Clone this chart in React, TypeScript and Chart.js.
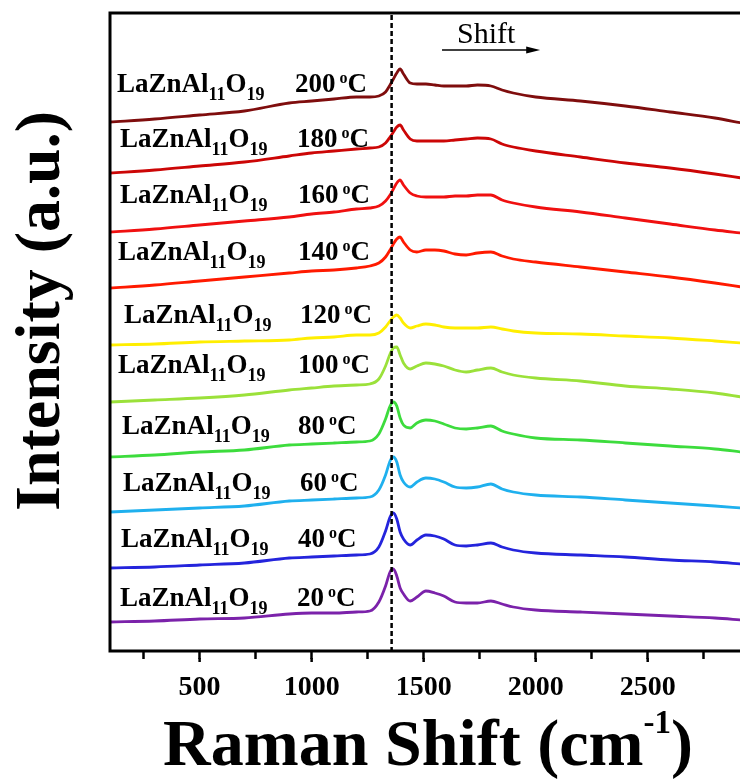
import { useEffect, useRef } from 'react';
import { Chart, registerables } from 'chart.js';

Chart.register(...registerables);

// Raman shift sample positions (cm-1)
const RAMAN_SHIFT = [100, 300, 500, 700, 900, 1000, 1100, 1200, 1260, 1300, 1330, 1350, 1365, 1380, 1395, 1410, 1440, 1470, 1510, 1550, 1590, 1640, 1690, 1740, 1800, 1850, 1900, 2000, 2200, 2400, 2600, 2800, 2920];

// Temperatures (bottom to top)
const TEMPERATURES = ['20', '40', '60', '80', '100', '120', '140', '160', '180', '200'];

// Offset intensities (a.u.)
const I_20C = [29, 30, 32, 33, 37, 38, 38, 39, 40, 49, 65, 79, 82, 75, 63, 57, 50, 54, 60, 58, 55, 49, 48, 48, 50, 47, 44, 41, 39, 37, 35, 33, 31];
const I_40C = [83, 84, 86, 88, 93, 94, 95, 96, 97, 104, 120, 134, 138, 132, 119, 112, 106, 111, 116, 115, 112, 106, 105, 106, 108, 104, 101, 98, 96, 94, 91, 89, 87];
const I_60C = [139, 141, 143, 145, 150, 151, 152, 153, 154, 161, 176, 190, 194, 189, 176, 169, 164, 169, 173, 172, 169, 164, 163, 164, 167, 162, 159, 156, 154, 151, 148, 145, 143];
const I_80C = [194, 196, 199, 201, 206, 207, 208, 209, 210, 217, 232, 245, 249, 245, 233, 226, 223, 228, 231, 230, 227, 223, 222, 223, 225, 220, 217, 213, 211, 208, 205, 202, 199];
const I_100C = [249, 251, 253, 256, 261, 263, 265, 266, 267, 272, 285, 297, 303, 304, 296, 288, 282, 285, 288, 287, 285, 281, 279, 281, 283, 279, 276, 273, 270, 265, 262, 258, 254];
const I_120C = [306, 307, 309, 310, 311, 313, 314, 316, 316, 318, 324, 330, 334, 336, 333, 328, 323, 325, 327, 326, 324, 323, 323, 323, 324, 322, 320, 318, 317, 315, 313, 310, 308];
const I_140C = [363, 366, 370, 374, 378, 380, 381, 383, 385, 388, 394, 401, 407, 412, 414, 409, 401, 399, 401, 401, 400, 397, 396, 398, 399, 395, 392, 389, 384, 379, 374, 368, 364];
const I_160C = [419, 422, 426, 430, 434, 437, 439, 442, 443, 445, 450, 456, 462, 468, 471, 466, 458, 455, 454, 454, 454, 455, 455, 456, 456, 451, 448, 444, 439, 433, 427, 421, 418];
const I_180C = [478, 481, 485, 489, 495, 498, 500, 502, 503, 504, 508, 514, 519, 524, 526, 521, 512, 510, 510, 510, 510, 511, 512, 513, 512, 507, 504, 500, 494, 488, 483, 477, 473];
const I_200C = [529, 532, 536, 540, 548, 550, 552, 554, 554, 555, 559, 566, 572, 578, 582, 577, 568, 567, 567, 566, 565, 565, 565, 566, 565, 561, 558, 554, 550, 545, 539, 533, 528];

const SERIES = [I_20C, I_40C, I_60C, I_80C, I_100C, I_120C, I_140C, I_160C, I_180C, I_200C];
const SERIES_COLORS = ['#7b22aa', '#2424dc', '#1fb0ee', '#3ddc3d', '#9be13a', '#ffee00', '#ff1a00', '#f01010', '#cc0606', '#7f0d0d'];

// Annotation text anchors (data units)
const LABEL_X = [145, 149, 158, 154, 136, 162, 136, 145, 145, 131];
const TEMP_X = [935, 939, 948, 939, 939, 948, 939, 939, 935, 926];
const LABEL_Y = [45, 104, 160, 217, 278, 328, 391, 448, 504, 559];

// Axis ticks
const X_TICKS = [250, 500, 750, 1000, 1250, 1500, 1750, 2000, 2250, 2500, 2750];
const X_TICK_LABELS = [500, 1000, 1500, 2000, 2500];

const X_MIN = 100;
const X_MAX = 2912;
const Y_MIN = 0;
const Y_MAX = 638;
const PEAK_MARKER = 1357;
const SHIFT_ARROW = [1582, 2020];
const SHIFT_TEXT_X = 1649;

const SERIF = "'Liberation Serif', 'Times New Roman', serif";

type Seg = { t: string; size: number; dy: number; bold: boolean };

function drawSegs(ctx: CanvasRenderingContext2D, segs: Seg[], x: number, y: number) {
  let cx = x;
  for (const s of segs) {
    ctx.font = `${s.bold ? 'bold ' : ''}${s.size}px ${SERIF}`;
    ctx.fillText(s.t, cx, y + s.dy);
    cx += ctx.measureText(s.t).width;
  }
  return cx;
}

function segsWidth(ctx: CanvasRenderingContext2D, segs: Seg[]) {
  let w = 0;
  for (const s of segs) {
    ctx.font = `${s.bold ? 'bold ' : ''}${s.size}px ${SERIF}`;
    w += ctx.measureText(s.t).width;
  }
  return w;
}

const decorPlugin = {
  id: 'decor',
  afterDraw(chart: any) {
    const ctx: CanvasRenderingContext2D = chart.ctx;
    const { left, right, top, bottom } = chart.chartArea;
    const xs = chart.scales.x;
    const ys = chart.scales.y;
    ctx.save();

    // frame
    ctx.strokeStyle = '#000';
    ctx.lineWidth = 3;
    ctx.lineCap = 'square';
    ctx.beginPath();
    ctx.moveTo(right + 5, top);
    ctx.lineTo(left, top);
    ctx.lineTo(left, bottom);
    ctx.lineTo(right + 5, bottom);
    ctx.stroke();

    // longer major ticks
    ctx.lineCap = 'butt';
    ctx.lineWidth = 2.5;
    X_TICK_LABELS.forEach((v) => {
      const tx = xs.getPixelForValue(v);
      ctx.beginPath();
      ctx.moveTo(tx, bottom + 7);
      ctx.lineTo(tx, bottom + 11);
      ctx.stroke();
    });

    // dashed peak marker
    const px = xs.getPixelForValue(PEAK_MARKER);
    ctx.lineWidth = 2.5;
    ctx.setLineDash([5, 3]);
    ctx.beginPath();
    ctx.moveTo(px, top + 2);
    ctx.lineTo(px, bottom - 1);
    ctx.stroke();
    ctx.setLineDash([]);

    // series labels
    ctx.fillStyle = '#000';
    ctx.textAlign = 'left';
    ctx.textBaseline = 'alphabetic';
    TEMPERATURES.forEach((t, i) => {
      const ly = ys.getPixelForValue(LABEL_Y[i]);
      drawSegs(ctx, [
        { t: 'LaZnAl', size: 27, dy: 0, bold: true },
        { t: '11', size: 18, dy: 8, bold: true },
        { t: 'O', size: 27, dy: 0, bold: true },
        { t: '19', size: 18, dy: 8, bold: true },
      ], xs.getPixelForValue(LABEL_X[i]), ly);
      drawSegs(ctx, [
        { t: t, size: 27, dy: 0, bold: true },
        { t: ' o', size: 16, dy: -9, bold: true },
        { t: 'C', size: 27, dy: 0, bold: true },
      ], xs.getPixelForValue(TEMP_X[i]), ly);
    });

    // Shift arrow
    const ax0 = xs.getPixelForValue(SHIFT_ARROW[0]);
    const ax1 = xs.getPixelForValue(SHIFT_ARROW[1]);
    const ay = top + 37;
    ctx.lineWidth = 1.3;
    ctx.beginPath();
    ctx.moveTo(ax0, ay);
    ctx.lineTo(ax1 - 10, ay);
    ctx.stroke();
    ctx.beginPath();
    ctx.moveTo(ax1, ay);
    ctx.lineTo(ax1 - 14, ay - 3.5);
    ctx.lineTo(ax1 - 14, ay + 3.5);
    ctx.closePath();
    ctx.fill();
    ctx.font = `30px ${SERIF}`;
    ctx.fillText('Shift', xs.getPixelForValue(SHIFT_TEXT_X), top + 30);

    // x title
    const xt: Seg[] = [
      { t: 'Raman Shift (cm', size: 66, dy: 0, bold: true },
      { t: '-1', size: 33, dy: -32, bold: true },
      { t: ')', size: 66, dy: 0, bold: true },
    ];
    const w = segsWidth(ctx, xt);
    drawSegs(ctx, xt, 428 - w / 2, 765);

    // y title
    ctx.save();
    ctx.translate(59, (top + bottom) / 2 - 21);
    ctx.rotate(-Math.PI / 2);
    ctx.textAlign = 'center';
    ctx.font = `bold 64px ${SERIF}`;
    ctx.fillText('Intensity (a.u.)', 0, 0);
    ctx.restore();

    ctx.restore();
  },
};

export default function App() {
  const ref = useRef<HTMLCanvasElement>(null);
  useEffect(() => {
    document.body.style.margin = '0';
    const chart = new Chart(ref.current as HTMLCanvasElement, {
      type: 'line',
      data: {
        datasets: SERIES.map((s, i) => ({
          label: `LaZnAl11O19 ${TEMPERATURES[i]} °C`,
          data: RAMAN_SHIFT.map((x, j) => ({ x, y: s[j] })),
          borderColor: SERIES_COLORS[i],
          backgroundColor: SERIES_COLORS[i],
          borderWidth: 2.8,
          pointRadius: 0,
          fill: false,
          cubicInterpolationMode: 'monotone' as const,
        })),
      },
      options: {
        animation: false,
        responsive: false,
        devicePixelRatio: 1,
        layout: { padding: { left: 110, top: 13, right: 0, bottom: 0 } },
        plugins: { legend: { display: false }, tooltip: { enabled: false } },
        scales: {
          x: {
            type: 'linear',
            min: X_MIN,
            max: X_MAX,
            afterBuildTicks: (s: any) => { s.ticks = X_TICKS.map((v) => ({ value: v })); },
            afterFit: (s: any) => { s.height = 130; },
            border: { display: false },
            grid: { drawOnChartArea: false, drawTicks: true, tickLength: 8, tickWidth: 2.5, tickColor: '#000' },
            ticks: {
              autoSkip: false,
              maxRotation: 0,
              minRotation: 0,
              padding: 12,
              color: '#000',
              font: { family: SERIF, size: 28, weight: 'bold' },
              callback: (v: any) => (X_TICK_LABELS.includes(Number(v)) ? String(v) : ''),
            },
          },
          y: { display: false, min: Y_MIN, max: Y_MAX },
        },
      } as any,
      plugins: [decorPlugin],
    });
    return () => chart.destroy();
  }, []);
  return (
    <div style={{ position: 'fixed', left: 0, top: 0, width: 740, height: 781, background: '#fff', overflow: 'hidden' }}>
      <canvas ref={ref} width={740} height={781} style={{ display: 'block', width: 740, height: 781 }} />
    </div>
  );
}
